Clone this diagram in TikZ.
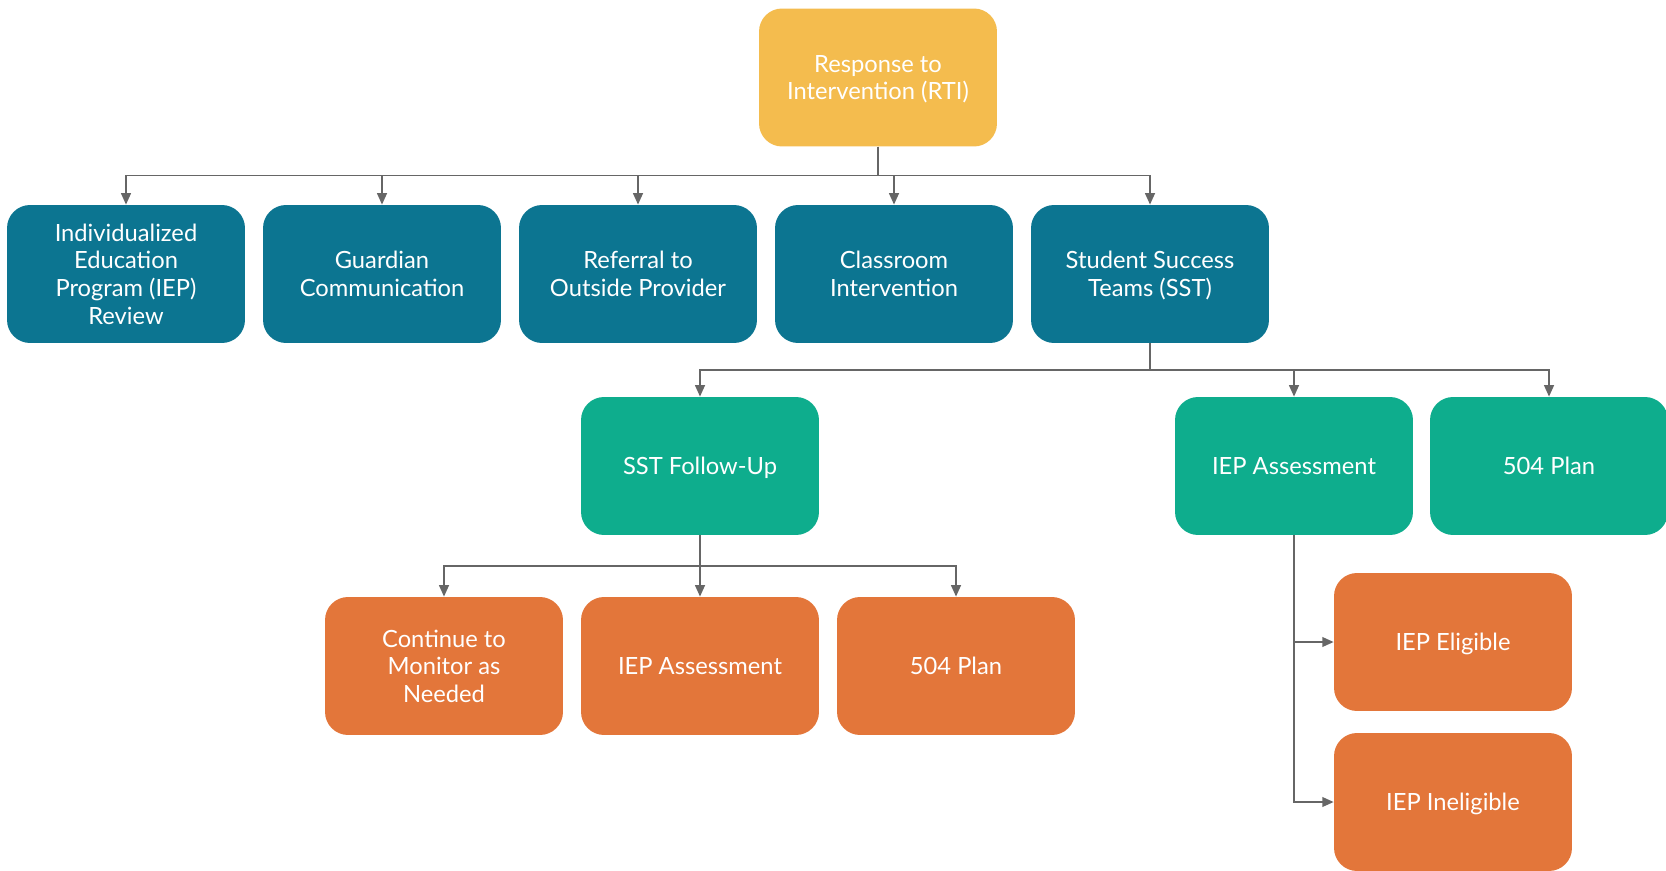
\documentclass[tikz,border=0pt]{standalone}
\usepackage{fontspec}
\setmainfont{Lato}
\usetikzlibrary{arrows.meta}
\definecolor{rtiyel}{RGB}{244,188,78}
\definecolor{stepblue}{RGB}{12,117,145}
\definecolor{sstgreen}{RGB}{14,173,141}
\definecolor{outorange}{RGB}{227,118,58}
\definecolor{wire}{RGB}{102,102,102}

\begin{document}
\begin{tikzpicture}[x=0.02cm,y=-0.02cm,
  box/.style={rounded corners=0.46cm,minimum width=4.76cm,minimum height=2.76cm,
    align=center,text=white,font=\fontsize{13.5}{15.7}\selectfont,inner sep=2pt,text depth=0pt},
  conn/.style={wire,line width=1.1pt,-{Triangle[length=6.5pt,width=5.5pt]}}]
\useasboundingbox (0,0) rectangle (1666,871);

\node[box,fill=rtiyel] (rti) at (878,77.5) {Response to\\Intervention (RTI)};

\node[box,fill=stepblue] (iepr) at (126,274) {Individualized\\Education\\Program (IEP)\\Review};
\node[box,fill=stepblue] (guard) at (382,274) {Guardian\\Communication};
\node[box,fill=stepblue] (refer) at (638,274) {Referral to\\Outside Provider};
\node[box,fill=stepblue] (class) at (894,274) {Classroom\\Intervention};
\node[box,fill=stepblue] (sst) at (1150,274) {Student Success\\Teams (SST)};

\node[box,fill=sstgreen] (follow) at (700,466) {SST Follow-Up};
\node[box,fill=sstgreen] (iepa) at (1294,466) {IEP Assessment};
\node[box,fill=sstgreen] (plan) at (1549,466) {504 Plan};

\node[box,fill=outorange] (monitor) at (444,666) {Continue to\\Monitor as\\Needed};
\node[box,fill=outorange] (iepb) at (700,666) {IEP Assessment};
\node[box,fill=outorange] (planb) at (956,666) {504 Plan};
\node[box,fill=outorange] (elig) at (1453,642) {IEP Eligible};
\node[box,fill=outorange] (inel) at (1453,802) {IEP Ineligible};

\coordinate (bus1) at (878,175.5);
\coordinate (bus2) at (1150,370);
\coordinate (bus3) at (700,566);

\foreach \n in {iepr,guard,refer,class,sst}
  \draw[conn] (rti.south) -- (bus1) -| (\n.north);
\foreach \n in {follow,iepa,plan}
  \draw[conn] (sst.south) -- (bus2) -| (\n.north);
\foreach \n in {monitor,iepb,planb}
  \draw[conn] (follow.south) -- (bus3) -| (\n.north);
\foreach \n in {elig,inel}
  \draw[conn] (iepa.south) |- (\n.west);

\end{tikzpicture}
\end{document}
